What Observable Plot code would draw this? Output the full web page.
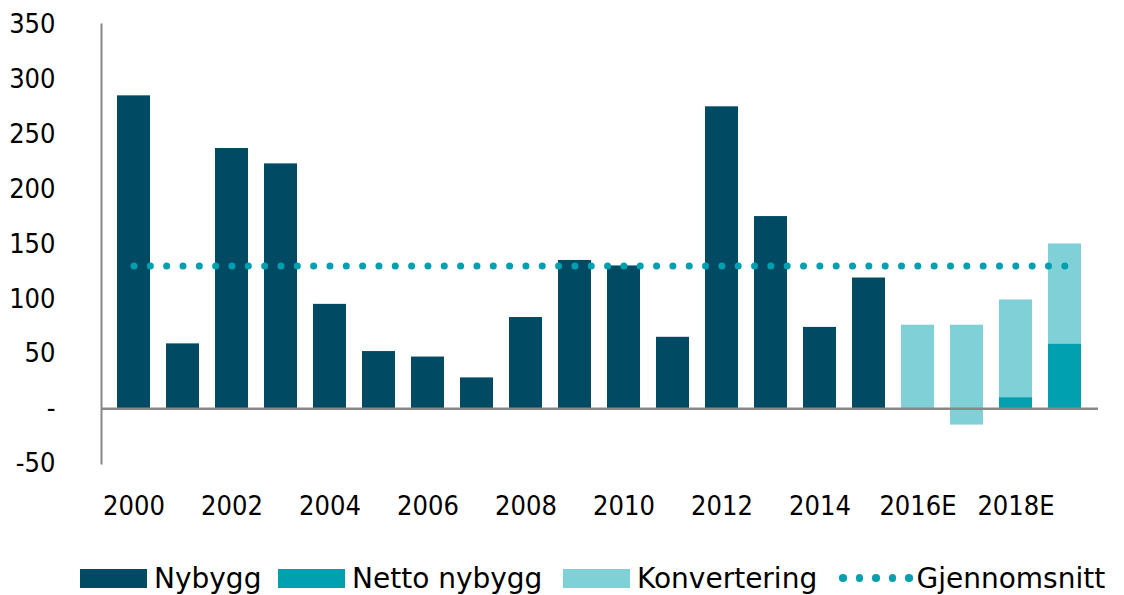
<!DOCTYPE html>
<html><head><meta charset="utf-8">
<script src="https://cdn.jsdelivr.net/npm/d3@7"></script>
<script src="https://cdn.jsdelivr.net/npm/@observablehq/plot@0.6"></script>
<style>
body{margin:0;background:#fff;font-family:"DejaVu Sans Condensed","DejaVu Sans",sans-serif;}
#wrap{position:relative;width:1124px;height:595px;}
#legend{position:absolute;left:0;top:562px;width:1124px;height:32px;font-family:"DejaVu Sans",sans-serif;font-size:28px;color:#000;}
.item{position:absolute;top:0;height:32px;display:flex;align-items:center;white-space:nowrap;}
.sw{width:67px;height:19px;margin-right:7px;}
.dots{display:flex;align-items:center;margin-right:4px;}
.dots span{width:7.5px;height:7.5px;border-radius:50%;background:#00a0b0;margin-right:9px;}
.dots span:last-child{margin-right:0}
</style></head><body>
<div id="wrap"><div id="chart"></div><div id="legend"></div></div>
<script>
const years = ["2000","2001","2002","2003","2004","2005","2006","2007","2008","2009","2010","2011","2012","2013","2014","2015","2016E","2017E","2018E","2019E"];
const nybygg = [285,59,237,223,95,52,47,28,83,135,130,65,275,175,74,119,0,0,0,0];
const nettoNybygg = [0,0,0,0,0,0,0,0,0,0,0,0,0,0,0,0,0,0,10,59];
const konvertering = [0,0,0,0,0,0,0,0,0,0,0,0,0,0,0,0,76,76,89,91];
const konverteringNeg = [0,0,0,0,0,0,0,0,0,0,0,0,0,0,0,0,0,-15,0,0];
const gjennomsnitt = 130;
const tickYears = ["2000","2002","2004","2006","2008","2010","2012","2014","2016E","2018E"];
const series = ["Nybygg","Netto nybygg","Konvertering"];
const colors = ["#004b63","#00a0b0","#80d0d8"];
const legendLabels = ["Nybygg","Netto nybygg","Konvertering","Gjennomsnitt"];

const rows = [];
years.forEach((y,i)=>{
  rows.push({year:y, s:"Nybygg", v:nybygg[i]});
  rows.push({year:y, s:"Netto nybygg", v:nettoNybygg[i]});
  rows.push({year:y, s:"Konvertering", v:konvertering[i]});
  rows.push({year:y, s:"Konvertering", v:konverteringNeg[i]});
});
const avg = years.map(y=>({year:y, v:gjennomsnitt}));

const chart = Plot.plot({
  width:1124, height:530,
  marginLeft:101, marginRight:26, marginTop:24, marginBottom:67,
  style:{fontFamily:'"DejaVu Sans Condensed","DejaVu Sans",sans-serif', fontSize:"27px", fontStretch:"condensed", color:"#000"},
  x:{domain:years, padding:0.32, label:null},
  y:{domain:[-50,350], label:null},
  color:{domain:series, range:colors},
  marks:[
    Plot.frame({anchor:"left", stroke:"#888", strokeWidth:2}),
    Plot.barY(rows, Plot.stackY({x:"year", y:"v", fill:"s", order:series})),
    Plot.ruleY([0], {stroke:"#888", strokeWidth:2.5}),
    Plot.lineY(avg, {x:"year", y:"v", stroke:"#00a0b0", strokeWidth:7, strokeDasharray:"0 16.33", strokeLinecap:"round"}),
    Plot.axisY({ticks:[-50,0,50,100,150,200,250,300,350], tickSize:0, tickPadding:46, tickFormat:d=>d===0?"-":String(d), fill:"#000"}),
    Plot.axisX({ticks:tickYears, tickSize:0, tickPadding:32, fill:"#000"})
  ]
});
document.getElementById("chart").appendChild(chart);

const leg = document.getElementById("legend");
const lefts = [80, 278, 563, 839];
legendLabels.forEach((s,i)=>{
  const d=document.createElement("div");d.className="item";d.style.left=lefts[i]+"px";
  if(i<3){
    d.innerHTML=`<div class="sw" style="background:${colors[i]}"></div><span>${s}</span>`;
  } else {
    d.innerHTML=`<div class="dots"><span></span><span></span><span></span><span></span><span></span></div><span>${s}</span>`;
  }
  leg.appendChild(d);
});
</script>
</body></html>
